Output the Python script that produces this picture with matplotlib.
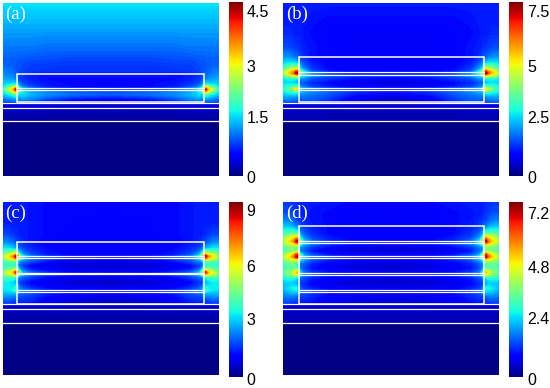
import numpy as np
import matplotlib
matplotlib.use("Agg")
import matplotlib.pyplot as plt
from matplotlib.colors import Normalize
from matplotlib.cm import ScalarMappable
from matplotlib.patches import Rectangle
from matplotlib.transforms import ScaledTranslation

W, H = 550, 388
plt.rcParams['font.family'] = ['Liberation Sans', 'DejaVu Sans']

# half-width sample positions (mirrored about the centre)
x_half = [0, 4, 8, 11, 13, 14.6, 16.5, 20, 28, 45, 70, 108]

# field strength in percent of each colour scale; each row starts with its y
field_a = [
    [0,    35,35,35,35,35,35,35,35,35,35,35,35],
    [25,   29,29,29,29,29,29,29,29,29,29,29,29],
    [45,   24,24,24,24,24,24,24,24,24,23,23,23],
    [60,   21,21,21,21,21,20,20,20,19,19,18,18],
    [68,   25,24,23,22,21,21,20,19,18,17,17,17],
    [71,   26,25,24,23,22,21,19,17,15,14,14,14],
    [76,   29,28,27,26,24,23,19,17,15,13,13,13],
    [81,   33,33,33,34,34,32,24,20,17,14,13,12],
    [84,   35,40,48,54,60,58,32,25,20,15,13,12],
    [86.7, 38,52,64,72,92,98,50,34,25,18,15,14],
    [89,   35,42,52,62,70,65,40,36,30,25,22,20],
    [92,   32,33,36,40,42,38,32,34,30,26,23,21],
    [96,   24,25,27,28,28,28,26,28,26,20,15,12],
    [99,   20,20,21,21,22,24,22,22,20,15,7,4],
    [100.5, 9,9,9,9,9,9,9,9,9,9,7,5],
    [105,   7,7,7,7,7,7,7,7,7,7,7,7],
    [112,   4,4,4,4,4,4,4,4,4,3,3,3],
    [118,   4,4,4,4,4,4,4,4,4,4,4,4],
    [120, .5,.5,.5,.5,.5,.5,.5,.5,.5,.5,.5,.5],
    [173, .5,.5,.5,.5,.5,.5,.5,.5,.5,.5,.5,.5],
]
field_b = [
    [0,    15,15,15,15,15,15,15,15,15,15,15,15],
    [15,   15,15,15,15,15,15,15,15,14,13,13,13],
    [30,   16,16,16,15,15,15,15,14,13,12,11,11],
    [45,   20,20,19,18,17,17,16,15,14,12,11,11],
    [54,   27,27,25,23,22,21,19,17,14,12,12,12],
    [60,   33,35,35,34,32,30,24,20,15,12,11,11],
    [66,   42,48,55,58,60,56,35,27,18,13,11,11],
    [69,   50,62,70,76,88,88,55,38,22,15,12,12],
    [70.5, 52,64,72,80,96,98,62,40,25,17,13,13],
    [72.5, 45,55,60,64,70,62,40,36,28,22,18,17],
    [76,   35,37,38,38,36,33,26,26,20,17,13,11],
    [80,   33,34,34,32,30,26,21,20,16,12,9,8],
    [84,   37,40,42,44,46,44,27,24,19,15,12,10],
    [86.5, 38,44,50,56,68,68,38,30,25,20,15,13],
    [89,   35,38,40,42,44,38,30,30,26,22,17,14],
    [93,   30,30,30,30,28,26,24,24,23,20,13,9],
    [99,   22,22,21,20,19,19,18,20,20,16,8,4],
    [100.5, 9,9,9,9,9,9,9,9,9,9,8,6],
    [105,   7,7,7,7,7,7,7,7,7,7,7,7],
    [112,   5,5,5,5,5,5,5,5,5,4,4,4],
    [118,   5,5,5,5,5,5,5,5,5,5,5,5],
    [120, .5,.5,.5,.5,.5,.5,.5,.5,.5,.5,.5,.5],
    [173, .5,.5,.5,.5,.5,.5,.5,.5,.5,.5,.5,.5],
]
field_c = [
    [0,    15,15,15,15,15,15,15,15,14,13,13,13],
    [20,   15,15,15,15,15,15,15,15,14,13,12,11],
    [32,   19,19,18,17,16,16,15,15,14,13,12,12],
    [40,   26,26,24,22,20,19,18,16,14,12,12,12],
    [46,   36,36,34,31,29,26,22,19,16,13,12,12],
    [51,   46,50,54,58,62,58,36,26,19,14,12,12],
    [54,   52,62,70,78,94,98,60,36,24,16,13,13],
    [56,   50,58,64,70,80,78,50,34,24,18,14,13],
    [59,   42,43,46,46,44,38,26,24,20,14,9,8],
    [63,   38,40,40,38,34,30,20,18,12,9,8,8],
    [67,   44,46,50,54,56,54,30,22,15,12,9,8],
    [70,   50,58,64,72,88,94,50,30,22,16,12,11],
    [72,   48,54,60,66,74,72,42,30,24,18,14,13],
    [75,   42,43,42,40,36,32,24,22,18,13,10,9],
    [80,   36,36,34,32,28,25,18,16,12,9,7,6],
    [85,   36,36,36,36,38,38,24,20,16,12,10,9],
    [88,   34,35,36,38,42,38,26,25,20,15,13,12],
    [91,   30,30,30,30,30,26,22,22,20,15,12,11],
    [96,   24,24,23,22,21,20,18,18,17,12,9,8],
    [101,  18,18,17,16,16,16,15,15,14,10,7,5],
    [102.5, 8,8,8,8,8,8,8,8,8,8,7,6],
    [107,   6,6,6,6,6,6,6,6,6,6,6,6],
    [114,   4,4,4,4,4,4,4,4,4,4,4,4],
    [120,   4,4,4,4,4,4,4,4,4,4,4,4],
    [122, .5,.5,.5,.5,.5,.5,.5,.5,.5,.5,.5,.5],
    [173, .5,.5,.5,.5,.5,.5,.5,.5,.5,.5,.5,.5],
]
field_d = [
    [0,    18,18,17,17,16,16,15,15,15,14,13,13],
    [10,   20,20,19,18,17,16,15,15,14,13,11,10],
    [18,   25,25,23,21,19,18,17,16,14,13,11,11],
    [24,   32,32,30,27,25,23,20,18,15,13,12,12],
    [31,   42,44,46,46,44,40,28,22,17,13,12,12],
    [36,   50,60,64,68,76,72,42,28,20,15,12,12],
    [39,   54,62,70,78,94,98,60,36,24,16,13,13],
    [41,   50,58,62,68,76,74,48,34,24,18,14,13],
    [45,   44,47,50,50,46,40,26,24,18,13,9,8],
    [49,   44,46,50,52,52,48,26,22,14,10,8,8],
    [52,   50,58,64,72,84,84,45,28,20,14,11,10],
    [54.5, 54,62,70,80,94,96,58,34,24,17,13,12],
    [57,   48,56,60,64,66,60,38,30,22,16,12,11],
    [61,   42,46,48,46,42,36,24,22,16,12,9,8],
    [66,   42,45,46,46,44,40,24,20,14,10,8,7],
    [70,   44,50,54,62,70,72,36,25,18,14,11,10],
    [72,   42,48,52,58,62,58,34,26,20,15,12,11],
    [76,   36,38,38,37,34,30,22,20,15,12,9,8],
    [81,   30,32,32,31,28,25,18,16,12,9,7,7],
    [86,   30,34,36,38,38,34,22,18,15,12,10,10],
    [89,   28,30,32,34,34,30,23,22,18,14,12,11],
    [94,   24,25,25,24,22,20,18,18,16,12,10,9],
    [101,  18,18,17,16,16,15,14,14,13,10,8,7],
    [102.5, 8,8,8,8,8,8,8,8,8,8,8,7],
    [107,   7,7,7,7,7,7,7,7,7,7,7,7],
    [114,   5,5,5,5,5,5,5,5,5,5,5,5],
    [120,   5,5,5,5,5,5,5,5,5,5,5,5],
    [122, .5,.5,.5,.5,.5,.5,.5,.5,.5,.5,.5,.5],
    [173, .5,.5,.5,.5,.5,.5,.5,.5,.5,.5,.5,.5],
]

panel_labels = ['(a)', '(b)', '(c)', '(d)']
scale_max = [4.74, 7.9, 9.41, 7.6]
tick_values = [[0, 1.5, 3, 4.5], [0, 2.5, 5, 7.5], [0, 3, 6, 9], [0, 2.4, 4.8, 7.2]]
tick_labels = [['0', '1.5', '3', '4.5'], ['0', '2.5', '5', '7.5'],
               ['0', '3', '6', '9'], ['0', '2.4', '4.8', '7.2']]
tick_nudge = [[-1.7, 4, 0, 0], [-1.7, 4, 0, 0], [-2, 3, 0, 0], [-2, 4, 0, -1]]
fields = [field_a, field_b, field_c, field_d]

# structure outlines (y from top of each map)
rect_y = [(71, 99), (54.6, 99), (39.7, 101.3), (23.3, 101.3)]
inner_lines = [[85.7, 87.7],
               [69.6, 72, 85.3, 87.3],
               [53.3, 55.3, 70.7, 71.7, 87.3, 89.3],
               [38.3, 40.3, 53.3, 55.3, 71, 72.7, 87.3, 89.3]]
layer_lines = [[100, 105, 118.6], [100, 105, 118.6],
               [101.8, 106.7, 120.3], [101.8, 106.7, 120.3]]
rect_x = [14.6, 15.7, 14.6, 15.7]

# pixel boxes: left, top, width, height
map_box = [(2.7, 2.7, 216, 173), (283.3, 2.7, 216, 173),
           (2.7, 202.3, 216, 173.7), (283.3, 202.3, 216, 173.7)]
bar_box = [(229, 1.7, 13.5, 174), (509.3, 1.7, 13.7, 174),
           (229, 202.3, 13.5, 175), (509.3, 202.3, 13.7, 175)]


def to_fig(b):
    return [b[0] / W, 1 - (b[1] + b[3]) / H, b[2] / W, b[3] / H]


fig = plt.figure(figsize=(W / 100, H / 100), dpi=100)
for i in range(4):
    ax = fig.add_axes(to_fig(map_box[i]))
    tab = np.array(fields[i], dtype=float)
    y = tab[:, 0]
    half = tab[:, 1:] * scale_max[i] / 100
    z = np.hstack([half, half[:, -2::-1]])
    xh = np.array(x_half, dtype=float)
    xh[5] = rect_x[i]
    x = np.concatenate([xh, 216 - xh[-2::-1]])
    levels = np.linspace(0, scale_max[i], 91)
    ax.contourf(x, y, z, levels=levels, cmap='jet', vmin=0, vmax=scale_max[i])
    ax.set_xlim(0, 216)
    ax.set_ylim(map_box[i][3], 0)
    ax.axis('off')

    x0 = rect_x[i]
    top, bot = rect_y[i]
    ax.add_patch(Rectangle((x0, top), 216 - 2 * x0, bot - top, fill=False,
                           ec='white', lw=1.1))
    for yy in inner_lines[i]:
        ax.plot([x0, 216 - x0], [yy, yy], color='white', lw=0.9)
    for yy in layer_lines[i]:
        ax.plot([0, 216], [yy, yy], color='white', lw=0.9)
    ax.text(2.5, 11.5, panel_labels[i], color='white', fontsize=13.5,
            family=['Liberation Serif'], va='center', ha='left')

    cax = fig.add_axes(to_fig(bar_box[i]))
    sm = ScalarMappable(norm=Normalize(0, scale_max[i]), cmap='jet')
    cb = fig.colorbar(sm, cax=cax)
    cb.outline.set_visible(False)
    cb.set_ticks(tick_values[i], labels=tick_labels[i])
    cax.tick_params(length=0, pad=3.0, labelsize=11.5)
    for lab, dy in zip(cax.get_yticklabels(), tick_nudge[i]):
        lab.set_transform(lab.get_transform() +
                          ScaledTranslation(0, dy / 100, fig.dpi_scale_trans))

fig.savefig('out.png', dpi=100)
